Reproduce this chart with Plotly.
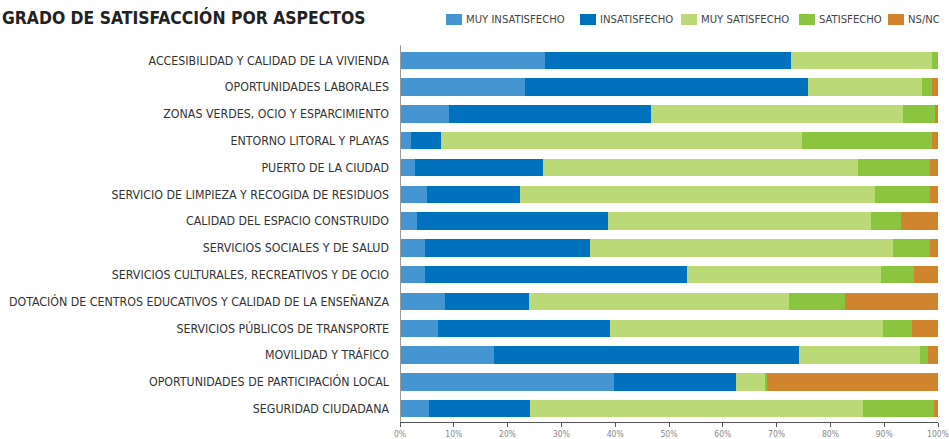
import plotly.graph_objects as go

# Aspects surveyed, top to bottom
aspects = [
    "ACCESIBILIDAD Y CALIDAD DE LA VIVIENDA",
    "OPORTUNIDADES LABORALES",
    "ZONAS VERDES, OCIO Y ESPARCIMIENTO",
    "ENTORNO LITORAL Y PLAYAS",
    "PUERTO DE LA CIUDAD",
    "SERVICIO DE LIMPIEZA Y RECOGIDA DE RESIDUOS",
    "CALIDAD DEL ESPACIO CONSTRUIDO",
    "SERVICIOS SOCIALES Y DE SALUD",
    "SERVICIOS CULTURALES, RECREATIVOS Y DE OCIO",
    "DOTACIÓN DE CENTROS EDUCATIVOS Y CALIDAD DE LA ENSEÑANZA",
    "SERVICIOS PÚBLICOS DE TRANSPORTE",
    "MOVILIDAD Y TRÁFICO",
    "OPORTUNIDADES DE PARTICIPACIÓN LOCAL",
    "SEGURIDAD CIUDADANA",
]

# Share of answers (%) per aspect
muy_insatisfecho = [27.0, 23.2, 9.1, 2.1, 2.8, 5.1, 3.2, 4.7, 4.7, 8.4, 7.0, 17.5, 39.8, 5.4]
insatisfecho = [45.7, 52.6, 37.6, 5.6, 23.8, 17.2, 35.5, 30.7, 48.7, 15.6, 32.1, 56.7, 22.7, 18.8]
muy_satisfecho = [26.2, 21.2, 46.8, 67.0, 58.6, 66.0, 48.8, 56.3, 36.0, 48.3, 50.7, 22.4, 5.4, 61.9]
satisfecho = [1.1, 1.9, 6.0, 24.2, 13.3, 10.2, 5.6, 6.8, 6.2, 10.4, 5.4, 1.5, 0.3, 13.2]
ns_nc = [0.0, 1.1, 0.5, 1.1, 1.5, 1.5, 6.9, 1.5, 4.4, 17.3, 4.8, 1.9, 31.8, 0.7]

x_ticks = [0, 10, 20, 30, 40, 50, 60, 70, 80, 90, 100]

series = [
    ("MUY INSATISFECHO", muy_insatisfecho, "#4495D1"),
    ("INSATISFECHO", insatisfecho, "#0071BC"),
    ("MUY SATISFECHO", muy_satisfecho, "#BBD977"),
    ("SATISFECHO", satisfecho, "#8BC53F"),
    ("NS/NC", ns_nc, "#D0842D"),
]

NARROW = "DejaVu Sans Condensed, Liberation Sans Narrow, Arial Narrow, sans-serif"

W, H = 949, 439
ML, MR, MT, MB = 400, 11, 47, 17
plot_w = W - ML - MR
plot_h = H - MT - MB

fig = go.Figure()
for name, vals, color in series:
    fig.add_trace(go.Bar(
        y=aspects, x=vals, name=name, orientation="h",
        marker=dict(color=color, line=dict(width=0)),
        hovertemplate="%{y}<br>" + name + ": %{x:.1f}%<extra></extra>",
        showlegend=False,
    ))

fig.update_layout(
    barmode="stack",
    bargap=0.35,
    width=W, height=H,
    margin=dict(l=ML, r=MR, t=MT, b=MB, autoexpand=False),
    paper_bgcolor="white", plot_bgcolor="white",
    font=dict(family=NARROW, color="#333333", size=12),
    title=dict(
        text="<b>GRADO DE SATISFACCIÓN POR ASPECTOS</b>",
        x=0.002, xanchor="left", y=1 - 17.5 / H, yanchor="middle",
        font=dict(family=NARROW, size=17.4, color="#222222"),
    ),
    showlegend=False,
)

fig.update_yaxes(
    autorange="reversed",
    showgrid=False, zeroline=False,
    showline=False, automargin=False,
    ticks="", ticklabelstandoff=10,
    tickfont=dict(family=NARROW, size=12.3, color="#333333"),
)

fig.update_xaxes(
    range=[0, 100],
    tickvals=x_ticks,
    ticktext=[f"{v}%" for v in x_ticks],
    showgrid=False, zeroline=False, automargin=False,
    showline=True, linecolor="#555555", linewidth=1,
    ticks="outside", ticklen=4, tickcolor="#555555",
    ticklabeloverflow="allow",
    tickfont=dict(family=NARROW, size=8.5, color="#888888"),
    fixedrange=True,
)

# vertical baseline on the left of the bars
fig.add_shape(type="line", xref="x", yref="paper", x0=0, x1=0, y0=0, y1=1.005,
              line=dict(color="#999999", width=2))

# legend row across the top right: swatch + label per series
def px_to_paper_x(px):
    return (px - ML) / plot_w

def px_to_paper_y(py):
    return 1 + (MT - py) / plot_h

legend_x = [446, 580, 681, 799, 888]
sw_w, sw_top, sw_bot = 16, 14, 25
for (name, _, color), lx in zip(series, legend_x):
    fig.add_shape(type="rect", xref="paper", yref="paper",
                  x0=px_to_paper_x(lx), x1=px_to_paper_x(lx + sw_w),
                  y0=px_to_paper_y(sw_bot), y1=px_to_paper_y(sw_top),
                  fillcolor=color, line=dict(width=0))
    fig.add_annotation(xref="paper", yref="paper",
                       x=px_to_paper_x(lx + sw_w + 2), y=px_to_paper_y((sw_top + sw_bot) / 2),
                       xanchor="left", yanchor="middle", showarrow=False,
                       text=name, font=dict(family=NARROW, size=11.2, color="#444444"))

fig.write_html("out.html")
